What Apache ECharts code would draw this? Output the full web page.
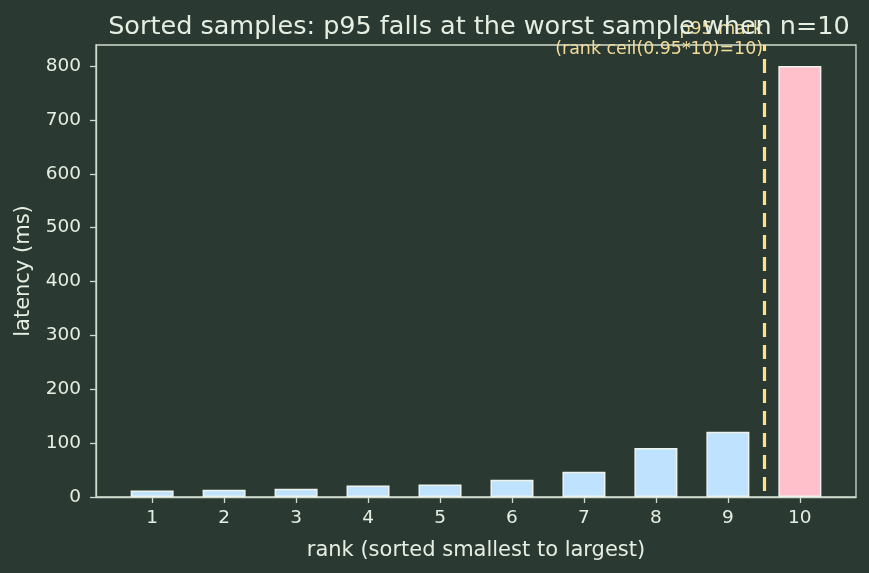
<!DOCTYPE html>
<html>
<head>
<meta charset="utf-8">
<script src="https://cdn.jsdelivr.net/npm/echarts@6/dist/echarts.min.js"></script>
<style>
  html, body { margin: 0; padding: 0; background: #2a3a33; }
  #chart { width: 869px; height: 573px; }
</style>
</head>
<body>
<div id="chart"></div>
<script>
const ranks = [1, 2, 3, 4, 5, 6, 7, 8, 9, 10];
const latencies = [12, 13.5, 15.5, 21.5, 23, 32, 47, 91, 121, 800];
const p95Rank = 10;
const markerX = 9.5;

const textColor = "#e6eee2";
const frameColor = "#cfdccd";
const font = "DejaVu Sans";

const chart = echarts.init(document.getElementById("chart"));

const barData = ranks.map((r, i) => ({
  value: [r, latencies[i]],
  itemStyle: { color: r === p95Rank ? "#ffc0cb" : "#bfe3ff" },
}));

chart.setOption({
  backgroundColor: "#2a3a33",
  animation: false,
  title: {
    text: "Sorted samples: p95 falls at the worst sample when n=10",
    left: 474,
    textAlign: "center",
    top: 9,
    textStyle: { color: textColor, fontFamily: font, fontSize: 25.5, fontWeight: "normal" },
  },
  grid: {
    left: 96,
    right: 13,
    top: 45,
    bottom: 76,
    containLabel: false,
    outerBoundsMode: "none",
    show: true,
    borderColor: frameColor,
    borderWidth: 1.3,
  },
  xAxis: {
    type: "value",
    min: 0.22,
    max: 10.78,
    name: "rank (sorted smallest to largest)",
    nameLocation: "middle",
    nameGap: 43,
    nameTextStyle: { color: textColor, fontFamily: font, fontSize: 21 },
    splitLine: { show: false },
    axisLine: { show: true, onZero: false, lineStyle: { color: frameColor, width: 1.3 } },
    axisTick: { show: true, length: 6, customValues: ranks, lineStyle: { color: frameColor, width: 1.3 } },
    axisLabel: { customValues: ranks, color: textColor, fontFamily: font, fontSize: 18.5, margin: 12 },
  },
  yAxis: {
    type: "value",
    min: 0,
    max: 839,
    interval: 100,
    name: "latency (ms)",
    nameLocation: "middle",
    nameGap: 62,
    nameTextStyle: { color: textColor, fontFamily: font, fontSize: 21 },
    splitLine: { show: false },
    axisLine: { show: true, lineStyle: { color: frameColor, width: 1.3 } },
    axisTick: { show: true, length: 6, lineStyle: { color: frameColor, width: 1.3 } },
    axisLabel: { color: textColor, fontFamily: font, fontSize: 18.5, margin: 15, showMaxLabel: false },
  },
  series: [
    {
      type: "bar",
      data: barData,
      barWidth: 43,
      itemStyle: { borderColor: "#eef4ec", borderWidth: 1.5 },
      markLine: {
        silent: true,
        symbol: "none",
        label: { show: false },
        lineStyle: { color: "#ffe08a", width: 3.2, type: [14, 8], dashOffset: 16 },
        data: [{ xAxis: markerX }],
      },
    },
  ],
  graphic: [
    {
      type: "text",
      right: 869 - 763,
      top: 19,
      style: {
        text: "p95 mark\n(rank ceil(0.95*10)=10)",
        fill: "#f3dc98",
        font: "17.4px DejaVu Sans",
        textAlign: "right",
        lineHeight: 20,
      },
    },
  ],
});
</script>
</body>
</html>
